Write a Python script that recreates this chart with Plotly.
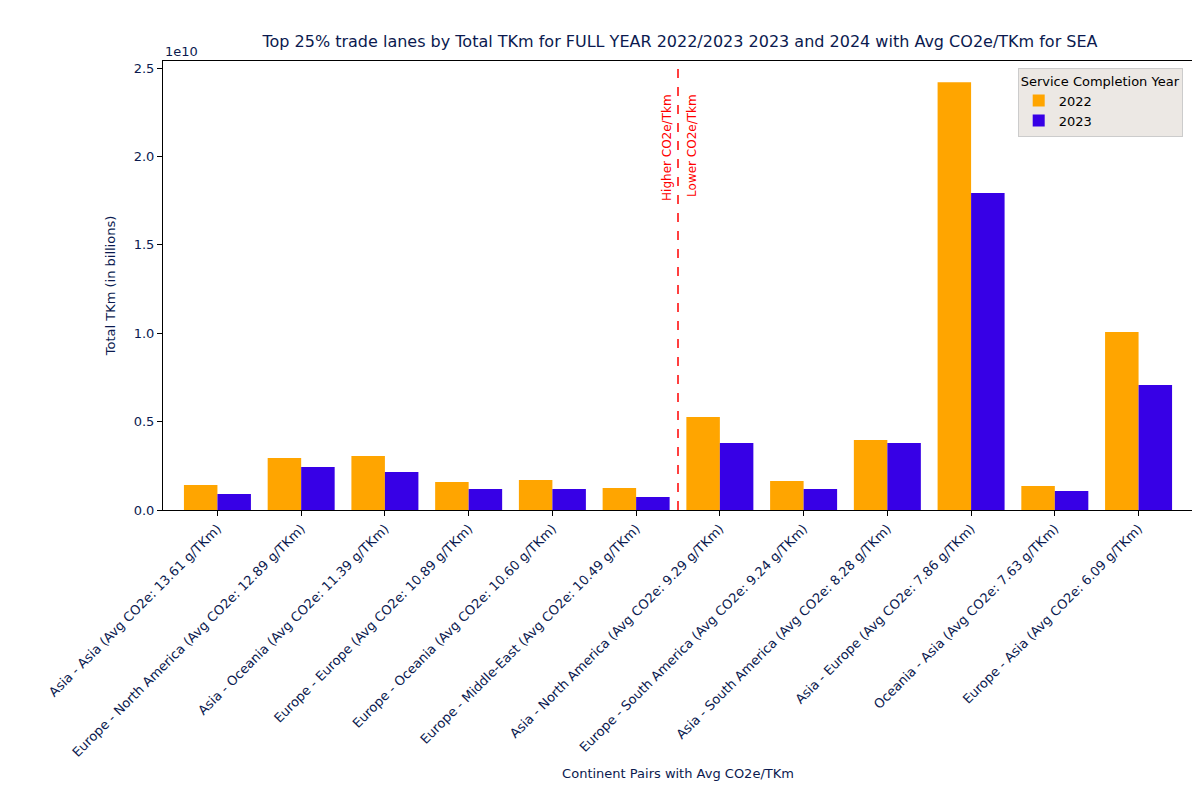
import plotly.graph_objects as go

lanes = ['Asia - Asia (Avg CO2e: 13.61 g/TKm)',
         'Europe - North America (Avg CO2e: 12.89 g/TKm)',
         'Asia - Oceania (Avg CO2e: 11.39 g/TKm)',
         'Europe - Europe (Avg CO2e: 10.89 g/TKm)',
         'Europe - Oceania (Avg CO2e: 10.60 g/TKm)',
         'Europe - Middle-East (Avg CO2e: 10.49 g/TKm)',
         'Asia - North America (Avg CO2e: 9.29 g/TKm)',
         'Europe - South America (Avg CO2e: 9.24 g/TKm)',
         'Asia - South America (Avg CO2e: 8.28 g/TKm)',
         'Asia - Europe (Avg CO2e: 7.86 g/TKm)',
         'Oceania - Asia (Avg CO2e: 7.63 g/TKm)',
         'Europe - Asia (Avg CO2e: 6.09 g/TKm)']
tkm_2022 = [1.41e9, 2.94e9, 3.05e9, 1.58e9, 1.70e9, 1.24e9, 5.26e9, 1.64e9, 3.96e9, 24.2e9, 1.36e9, 10.07e9]
tkm_2023 = [0.90e9, 2.43e9, 2.15e9, 1.19e9, 1.19e9, 0.74e9, 3.79e9, 1.19e9, 3.79e9, 17.93e9, 1.07e9, 7.07e9]
y_ticks = [0, 0.5e10, 1.0e10, 1.5e10, 2.0e10, 2.5e10]
y_tick_text = ['0.0', '0.5', '1.0', '1.5', '2.0', '2.5']

navy = '#0b1a4f'
x = list(range(len(lanes)))

fig = go.Figure()
fig.add_trace(go.Bar(x=x, y=tkm_2022, name='2022', marker_color='#ffa500', marker_line_width=0,
                     width=0.4, offset=-0.4))
fig.add_trace(go.Bar(x=x, y=tkm_2023, name='2023', marker_color='#3700e6', marker_line_width=0,
                     width=0.4, offset=0))

fig.add_shape(type='line', x0=5.5, x1=5.5, y0=0, y1=1, yref='paper',
              line=dict(color='red', dash='dash', width=1.5))
fig.add_annotation(x=5.5, xshift=-11, y=0.93, yref='paper', text='Higher CO2e/Tkm', textangle=-90,
                   showarrow=False, font=dict(color='red', size=12), yanchor='top')
fig.add_annotation(x=5.5, xshift=14, y=0.93, yref='paper', text='Lower CO2e/Tkm', textangle=-90,
                   showarrow=False, font=dict(color='red', size=12), yanchor='top')
fig.add_annotation(x=0, y=1, xref='paper', yref='paper', text='1e10', showarrow=False,
                   xanchor='left', yanchor='bottom', font=dict(color=navy, size=13))

axis_style = dict(showline=True, linecolor='black', mirror=True, ticks='outside',
                  tickcolor='black', showgrid=False, zeroline=False, automargin=False,
                  tickfont=dict(color=navy, size=13))

fig.update_layout(
    width=1200, height=800,
    font=dict(family='DejaVu Sans', color=navy),
    title=dict(text='Top 25% trade lanes by Total TKm for FULL YEAR 2022/2023 2023 and 2024 with Avg CO2e/TKm for SEA',
               x=0.56, xanchor='center', y=0.965, font=dict(size=16, color=navy)),
    plot_bgcolor='white', paper_bgcolor='white',
    margin=dict(l=155, r=15, t=53, b=298),
    barmode='overlay',
    xaxis=dict(axis_style, tickmode='array', tickvals=x, ticktext=lanes, tickangle=-45,
               range=[-0.65, 11.65],
               title=dict(text='Continent Pairs with Avg CO2e/TKm', font=dict(size=13, color=navy), standoff=10)),
    yaxis=dict(axis_style, tickmode='array', tickvals=y_ticks, ticktext=y_tick_text,
               range=[0, 2.54e10],
               title=dict(text='Total TKm (in billions)', font=dict(size=13, color=navy))),
    legend=dict(title=dict(text='Service Completion Year', side='top', font=dict(size=13, color='black')),
                x=0.99, y=0.985, xanchor='right', yanchor='top', bgcolor='#ece8e4', bordercolor='#cccccc',
                borderwidth=1, font=dict(size=13, color='black')),
)

fig.write_html('out.html')
